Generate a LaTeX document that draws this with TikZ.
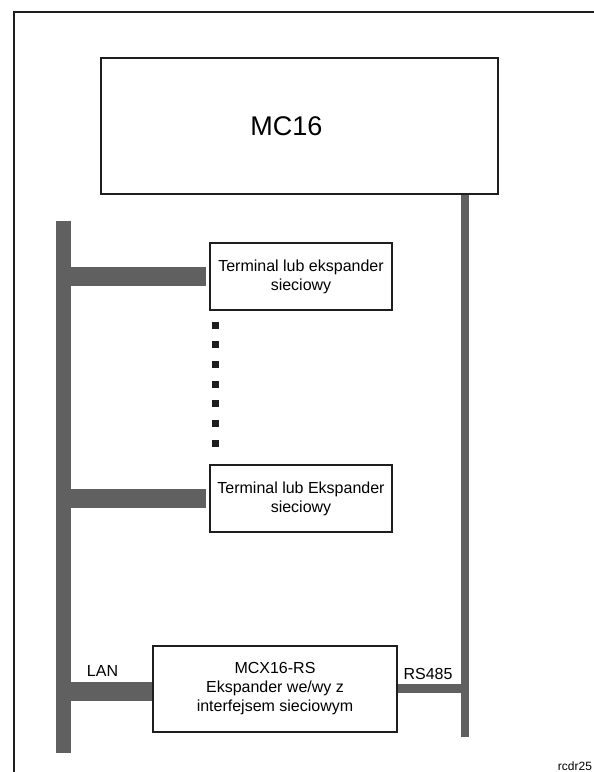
\documentclass[tikz,border=0pt]{standalone}
\usepackage{fontspec}
\setmainfont{Liberation Sans}
\definecolor{busgray}{HTML}{606060}
\definecolor{boxline}{HTML}{1E1E1E}
\begin{document}
\begin{tikzpicture}[x=1pt,y=-1pt,
  devbox/.style={draw=boxline,line width=2pt,fill=white,align=center,inner sep=0pt,
    font=\fontsize{16}{19}\selectfont},
  bus/.style={draw=busgray,line cap=butt},
  dotsq/.style={fill=boxline,minimum size=7pt,inner sep=0pt,draw=none},
  lbl/.style={font=\fontsize{16}{19}\selectfont,inner sep=0pt}]
\useasboundingbox (0,0) rectangle (594,772);
% frame
\draw[line width=1.5pt,boxline] (14,772) -- (14,12) -- (594,12);
% nodes
\node[devbox,minimum width=397pt,minimum height=136pt] (mc) at (299.5,126) {};
\node[lbl,font=\fontsize{27}{32}\selectfont] (mclbl) at (286.5,126) {MC16};
\node[devbox,minimum width=182pt,minimum height=67pt] (t1) at (301,276.5) {Terminal lub ekspander\\sieciowy};
\node[devbox,minimum width=182pt,minimum height=67pt] (t2) at (301,498.5) {Terminal lub Ekspander\\sieciowy};
% buses
\coordinate (lt) at (63.5,221);
\coordinate (lb) at (63.5,753);
\coordinate (rb) at (465,737);
\coordinate (b1) at (63.5,276.5);
\coordinate (b2) at (63.5,498.5);
\coordinate (b3) at (63.5,691.5);
\coordinate (b3e) at (155,691.5);
\coordinate (r3) at (465,688);
\coordinate (r3s) at (395,688);
\draw[bus,line width=15pt] (lt) -- (lb);
\draw[bus,line width=8pt] (mc.south -| rb) -- (rb);
\draw[bus,line width=19pt,shorten >=3pt] (b1) -- (t1.west);
\draw[bus,line width=19pt,shorten >=3pt] (b2) -- (t2.west);
\draw[bus,line width=19pt] (b3) -- (b3e);
\draw[bus,line width=9pt] (r3s) -- (r3);
\node[devbox,minimum width=244pt,minimum height=86pt] (mcx) at (275,689) {MCX16-RS\\Ekspander we/wy z\\interfejsem sieciowym};
% dots
\foreach \i [count=\k] in {0,...,6}{
  \node[dotsq] (d\k) at (215.5,{325+19.7*\i}) {};
}
% labels
\node[lbl] (lan) at (102.5,671) {LAN};
\node[lbl] (rs) at (428,673.5) {RS485};
\node[lbl,font=\fontsize{12}{14}\selectfont] (rc) at (575,766) {rcdr25};
\end{tikzpicture}
\end{document}
